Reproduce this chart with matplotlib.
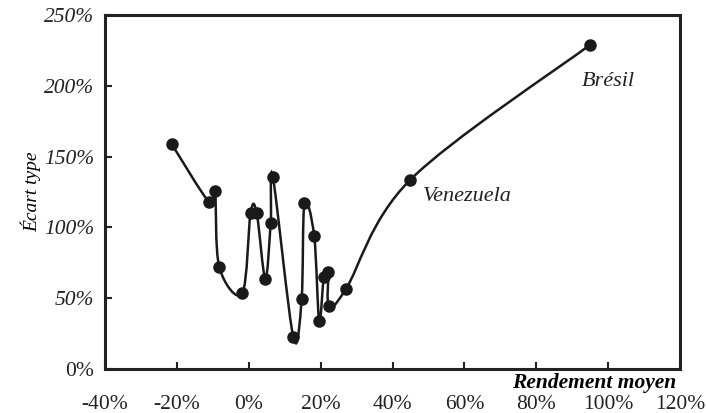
import numpy as np
import matplotlib.pyplot as plt
from matplotlib.path import Path
from matplotlib.patches import PathPatch

# Rendement moyen (%) et écart type (%) par pays
rendement = [-21.4, -11.1, -9.4, -8.2, -1.8, 0.5, 2.2, 4.6, 6.1, 6.7,
             12.4, 14.7, 15.5, 18.2, 19.6, 20.9, 22.1, 22.3, 27.0, 44.9, 94.9]
ecart_type = [158.7, 118.1, 125.9, 72.0, 53.5, 110.0, 110.4, 63.8, 103.3, 135.8,
              22.4, 49.2, 117.0, 94.1, 33.7, 65.2, 68.3, 44.7, 56.3, 133.5, 228.8]
etiquettes = {19: ('Venezuela', (9, -12)), 20: ('Brésil', (-6, -26))}

x_ticks = [-40, -20, 0, 20, 40, 60, 80, 100, 120]
y_ticks = [0, 50, 100, 150, 200, 250]

plt.rcParams['font.family'] = ['Liberation Serif', 'DejaVu Serif']


def smooth_path(xs, ys):
    # Excel-style smoothed line: Catmull-Rom converted to cubic Bezier
    pts = np.column_stack([xs, ys]).astype(float)
    n = len(pts)
    verts = [pts[0]]
    codes = [Path.MOVETO]
    for i in range(n - 1):
        p0 = pts[i - 1] if i > 0 else pts[i]
        p1 = pts[i]
        p2 = pts[i + 1]
        p3 = pts[i + 2] if i + 2 < n else pts[i + 1]
        c1 = p1 + (p2 - p0) / 6.0
        c2 = p2 - (p3 - p1) / 6.0
        verts += [c1, c2, p2]
        codes += [Path.CURVE4] * 3
    return Path(verts, codes)


fig = plt.figure(figsize=(7.06, 4.13), dpi=100)
ax = fig.add_axes([105 / 706, 44 / 413, 575 / 706, 354 / 413])

ax.add_patch(PathPatch(smooth_path(rendement, ecart_type), fill=False,
                       edgecolor='#1a1a1a', linewidth=1.8))
ax.plot(rendement, ecart_type, 'o', color='#1a1a1a', markersize=8, zorder=3)

for i, (nom, off) in etiquettes.items():
    ax.annotate(nom, (rendement[i], ecart_type[i]), xytext=off,
                textcoords='offset points', fontsize=16, style='italic',
                color='#222222', ha='left', va='center')

ax.set_xlim(-40, 120)
ax.set_ylim(0, 250)
ax.set_xticks(x_ticks)
ax.set_yticks(y_ticks)
ax.set_xticklabels([f'{v}%' for v in x_ticks], fontsize=15.5)
ax.set_yticklabels([f'{v}%' for v in y_ticks], fontsize=15.5)
for lab in ax.get_yticklabels()[1:]:
    lab.set_style('italic')

ax.tick_params(axis='both', direction='in', length=5, width=1.5,
               colors='#222222')
ax.tick_params(axis='x', pad=19)
ax.tick_params(axis='y', pad=8)
for s in ax.spines.values():
    s.set_linewidth(2.2)
    s.set_color('#222222')

ax.text(0.993, -0.012, 'Rendement moyen', transform=ax.transAxes,
        ha='right', va='top', fontsize=15.5, style='italic', weight='bold')
ax.set_ylabel('Écart type', fontsize=14, style='italic', labelpad=2)

fig.savefig('out.png', dpi=100)
